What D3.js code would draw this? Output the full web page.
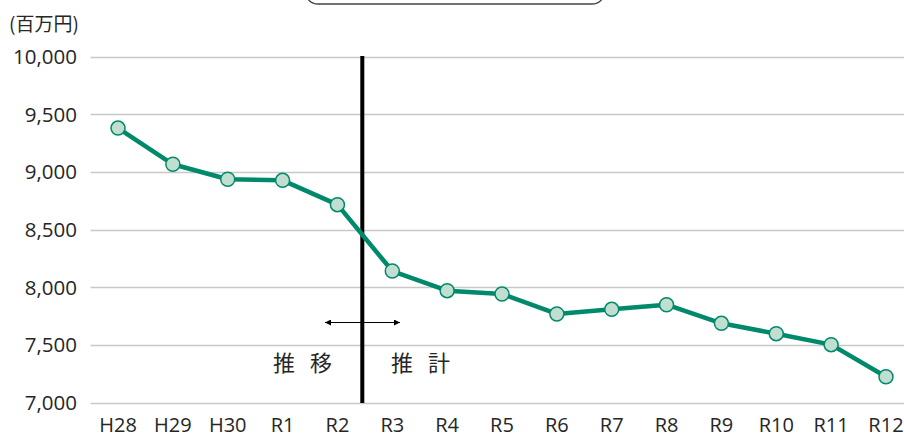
<!DOCTYPE html>
<html>
<head>
<meta charset="utf-8">
<script src="https://cdn.jsdelivr.net/npm/d3@7"></script>
<style>
  body { margin: 0; background: #fff; }
  text { font-family: "Open Sans", "Noto Sans CJK JP", sans-serif; fill: #262626; }
  .jp { font-family: "Noto Sans CJK JP", sans-serif; }
</style>
</head>
<body>
<div id="chart"></div>
<script>
var years = ['H28', 'H29', 'H30', 'R1', 'R2', 'R3', 'R4', 'R5', 'R6', 'R7', 'R8', 'R9', 'R10', 'R11', 'R12'];
var amounts = [9380, 9066, 8936, 8927, 8716, 8141, 7971, 7942, 7769, 7809, 7849, 7688, 7598, 7503, 7225];
var yTicks = [7000, 7500, 8000, 8500, 9000, 9500, 10000];
var unitLabel = '(百万円)';
var pastLabel = '推 移';
var futureLabel = '推 計';

var width = 904, height = 434;

var svg = d3.select('#chart').append('svg')
    .attr('width', width)
    .attr('height', height);

var x = d3.scaleBand()
    .domain(years)
    .range([90.6, 913.4])
    .padding(0);

var y = d3.scaleLinear()
    .domain([7000, 10000])
    .range([402.7, 56.5]);

function cx(d) { return x(d) + x.bandwidth() / 2; }

// rounded box at the top (cut off)
svg.append('rect')
    .attr('x', 305).attr('y', -30)
    .attr('width', 300).attr('height', 34)
    .attr('rx', 13)
    .attr('fill', '#fff')
    .attr('stroke', '#444')
    .attr('stroke-width', 1.3);

// gridlines
svg.append('g')
    .selectAll('line')
    .data(yTicks)
    .enter().append('line')
    .attr('x1', 90.6).attr('x2', width)
    .attr('y1', function(d) { return Math.round(y(d)) + 0.5; })
    .attr('y2', function(d) { return Math.round(y(d)) + 0.5; })
    .attr('stroke', '#c8c8c8')
    .attr('stroke-width', 1.3);

// y axis labels
svg.append('g')
    .selectAll('text')
    .data(yTicks)
    .enter().append('text')
    .attr('x', 77)
    .attr('y', function(d) { return y(d); })
    .attr('dy', '0.36em')
    .attr('text-anchor', 'end')
    .attr('font-size', 20.5)
    .text(d3.format(','));

svg.append('text')
    .attr('class', 'jp')
    .attr('x', 9).attr('y', 31)
    .attr('font-size', 19)
    .text(unitLabel);

// x axis labels
svg.append('g')
    .selectAll('text')
    .data(years)
    .enter().append('text')
    .attr('x', cx)
    .attr('y', 432)
    .attr('text-anchor', 'middle')
    .attr('font-size', 20)
    .text(function(d) { return d; });

// divider between actual and forecast
var divX = 362.3;
svg.append('line')
    .attr('x1', divX).attr('x2', divX)
    .attr('y1', 56).attr('y2', 403)
    .attr('stroke', '#000')
    .attr('stroke-width', 4);

// double arrow
var defs = svg.append('defs');
defs.append('marker')
    .attr('id', 'ah')
    .attr('viewBox', '0 0 10 10')
    .attr('refX', 10).attr('refY', 5)
    .attr('markerWidth', 10).attr('markerHeight', 6)
    .attr('markerUnits', 'userSpaceOnUse')
    .attr('orient', 'auto-start-reverse')
    .append('path')
    .attr('d', 'M0,0 L10,5 L0,10 z')
    .attr('fill', '#000');

svg.append('line')
    .attr('x1', 325).attr('x2', 400)
    .attr('y1', 322.5).attr('y2', 322.5)
    .attr('stroke', '#000')
    .attr('stroke-width', 1.2)
    .attr('marker-start', 'url(#ah)')
    .attr('marker-end', 'url(#ah)');

svg.append('text')
    .attr('class', 'jp')
    .attr('x', 273).attr('y', 371)
    .attr('font-size', 22)
    .attr('letter-spacing', 5)
    .text(pastLabel);

svg.append('text')
    .attr('class', 'jp')
    .attr('x', 391).attr('y', 371)
    .attr('font-size', 22)
    .attr('letter-spacing', 5)
    .text(futureLabel);

// line
var line = d3.line()
    .x(function(d, i) { return cx(years[i]); })
    .y(function(d) { return y(d); });

svg.append('path')
    .datum(amounts)
    .attr('d', line)
    .attr('fill', 'none')
    .attr('stroke', '#00896b')
    .attr('stroke-width', 4.5)
    .attr('stroke-linejoin', 'round');

svg.append('g')
    .selectAll('circle')
    .data(amounts)
    .enter().append('circle')
    .attr('cx', function(d, i) { return cx(years[i]); })
    .attr('cy', function(d) { return y(d); })
    .attr('r', 7)
    .attr('fill', '#c1dfd1')
    .attr('stroke', '#00896b')
    .attr('stroke-width', 1.5);
</script>
</body>
</html>
